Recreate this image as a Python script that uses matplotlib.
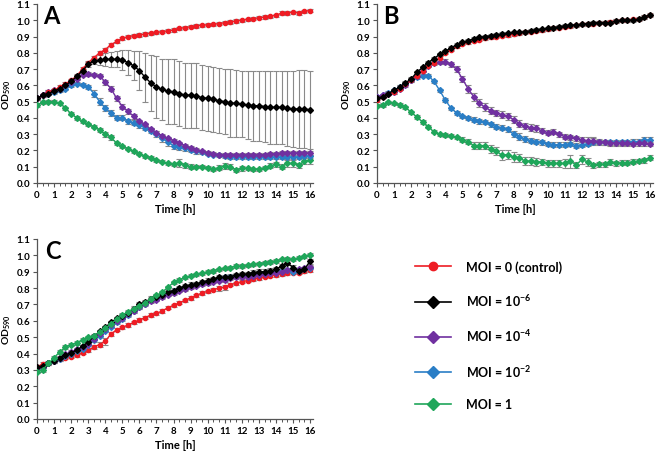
import numpy as np
import matplotlib
matplotlib.use("Agg")
import matplotlib.pyplot as plt
from matplotlib.lines import Line2D
from matplotlib.ticker import MultipleLocator

plt.rcParams['font.family'] = ['Lato', 'DejaVu Sans']
plt.rcParams['mathtext.fontset'] = 'custom'
plt.rcParams['mathtext.rm'] = 'Lato'
plt.rcParams['mathtext.bf'] = 'Lato:bold'

time_h = [i / 3 for i in range(49)]

series_labels = ["MOI = 0 (control)", r"MOI = 10$^{\mathbf{-6}}$", r"MOI = 10$^{\mathbf{-4}}$",
                 r"MOI = 10$^{\mathbf{-2}}$", "MOI = 1"]
series_colors = ["#EE1C24", "#000000", "#7030A0", "#2A7EC6", "#1FA65A"]
series_markers = ["o", "D", "D", "D", "D"]

# ---------------- Panel A ----------------
A_red = [0.52, 0.54, 0.56, 0.57, 0.59, 0.61, 0.63, 0.66, 0.70, 0.74, 0.77, 0.80, 0.82, 0.85, 0.87, 0.89, 0.90,
         0.905, 0.91, 0.915, 0.92, 0.925, 0.93, 0.935, 0.94, 0.95, 0.955, 0.96, 0.965, 0.97, 0.972, 0.975, 0.98,
         0.985, 0.99, 0.995, 1.0, 1.005, 1.01, 1.015, 1.02, 1.025, 1.03, 1.045, 1.045, 1.05, 1.045, 1.055, 1.06]
A_black = [0.52, 0.54, 0.55, 0.565, 0.58, 0.60, 0.625, 0.655, 0.69, 0.73, 0.75, 0.755, 0.76, 0.76, 0.76, 0.755,
           0.74, 0.72, 0.69, 0.65, 0.615, 0.59, 0.575, 0.565, 0.56, 0.55, 0.54, 0.54, 0.535, 0.525, 0.52, 0.515,
           0.505, 0.50, 0.49, 0.49, 0.485, 0.48, 0.475, 0.475, 0.47, 0.465, 0.465, 0.465, 0.46, 0.455, 0.455,
           0.455, 0.45]
A_purple = [0.52, 0.54, 0.56, 0.57, 0.58, 0.60, 0.62, 0.64, 0.665, 0.67, 0.665, 0.66, 0.62, 0.58, 0.52, 0.47,
            0.44, 0.41, 0.38, 0.36, 0.33, 0.31, 0.29, 0.275, 0.26, 0.245, 0.23, 0.215, 0.205, 0.195, 0.185, 0.18,
            0.175, 0.175, 0.175, 0.175, 0.175, 0.175, 0.175, 0.175, 0.175, 0.18, 0.18, 0.185, 0.185, 0.185, 0.185,
            0.185, 0.185]
A_blue = [0.52, 0.54, 0.55, 0.56, 0.57, 0.58, 0.60, 0.61, 0.605, 0.59, 0.55, 0.50, 0.46, 0.43, 0.40, 0.40, 0.38,
          0.37, 0.355, 0.34, 0.32, 0.30, 0.275, 0.25, 0.23, 0.22, 0.215, 0.205, 0.195, 0.19, 0.18, 0.175, 0.17,
          0.165, 0.16, 0.16, 0.16, 0.16, 0.16, 0.16, 0.16, 0.16, 0.16, 0.16, 0.16, 0.16, 0.16, 0.165, 0.165]
A_green = [0.48, 0.495, 0.50, 0.50, 0.49, 0.46, 0.425, 0.40, 0.38, 0.36, 0.345, 0.325, 0.30, 0.28, 0.245, 0.225,
           0.21, 0.195, 0.18, 0.165, 0.155, 0.14, 0.13, 0.12, 0.115, 0.125, 0.11, 0.10, 0.10, 0.10, 0.095, 0.085,
           0.095, 0.105, 0.10, 0.08, 0.09, 0.09, 0.085, 0.085, 0.095, 0.105, 0.115, 0.10, 0.12, 0.12, 0.11, 0.135,
           0.14]

A_red_err = [0.01] * 49
A_black_err = [0.01, 0.01, 0.01, 0.01, 0.01, 0.01, 0.01, 0.01, 0.01, 0.015, 0.02, 0.03, 0.04, 0.045, 0.05, 0.06,
               0.075, 0.09, 0.12, 0.15, 0.17, 0.19, 0.19, 0.2, 0.2, 0.2, 0.2, 0.2, 0.2, 0.2, 0.2, 0.2, 0.2, 0.2,
               0.21, 0.205, 0.205, 0.21, 0.215, 0.215, 0.22, 0.225, 0.225, 0.225, 0.23, 0.235, 0.24, 0.24, 0.24]
A_purple_err = [0.01, 0.01, 0.01, 0.01, 0.01, 0.01, 0.01, 0.01, 0.01, 0.01, 0.01, 0.01, 0.015, 0.015, 0.015,
                0.015, 0.015, 0.015, 0.01, 0.01, 0.01, 0.01, 0.01, 0.01, 0.01, 0.01, 0.01, 0.01, 0.01, 0.01, 0.01,
                0.01, 0.01, 0.01, 0.01, 0.01, 0.01, 0.01, 0.01, 0.01, 0.01, 0.01, 0.01, 0.01, 0.01, 0.01, 0.01,
                0.01, 0.01]
A_blue_err = [0.01, 0.01, 0.01, 0.01, 0.01, 0.01, 0.01, 0.01, 0.01, 0.015, 0.02, 0.02, 0.02, 0.02, 0.015, 0.015,
              0.015, 0.015, 0.015, 0.015, 0.015, 0.02, 0.02, 0.02, 0.02, 0.02, 0.02, 0.015, 0.015, 0.01, 0.01, 0.01,
              0.01, 0.01, 0.01, 0.01, 0.01, 0.01, 0.01, 0.01, 0.01, 0.01, 0.01, 0.01, 0.01, 0.01, 0.01, 0.01, 0.01]
A_green_err = [0.01, 0.01, 0.01, 0.01, 0.01, 0.01, 0.01, 0.01, 0.01, 0.01, 0.01, 0.01, 0.015, 0.015, 0.01, 0.01,
               0.01, 0.01, 0.01, 0.01, 0.01, 0.01, 0.01, 0.01, 0.01, 0.025, 0.015, 0.015, 0.01, 0.01, 0.01, 0.01,
               0.015, 0.02, 0.015, 0.01, 0.015, 0.01, 0.01, 0.01, 0.01, 0.015, 0.015, 0.015, 0.02, 0.02, 0.015,
               0.02, 0.025]

# ---------------- Panel B ----------------
B_red = [0.51, 0.53, 0.55, 0.56, 0.58, 0.61, 0.63, 0.66, 0.69, 0.72, 0.74, 0.77, 0.80, 0.82, 0.84, 0.855, 0.865,
         0.875, 0.88, 0.89, 0.895, 0.90, 0.905, 0.91, 0.915, 0.92, 0.925, 0.93, 0.935, 0.94, 0.945, 0.95, 0.955,
         0.96, 0.965, 0.97, 0.975, 0.975, 0.98, 0.985, 0.985, 0.99, 0.995, 1.0, 1.0, 1.005, 1.01, 1.02, 1.03]
B_black = [0.52, 0.53, 0.55, 0.57, 0.59, 0.615, 0.64, 0.68, 0.71, 0.74, 0.765, 0.79, 0.81, 0.83, 0.85, 0.865,
           0.875, 0.885, 0.895, 0.90, 0.905, 0.91, 0.915, 0.92, 0.925, 0.925, 0.93, 0.935, 0.94, 0.945, 0.95,
           0.955, 0.96, 0.965, 0.97, 0.97, 0.975, 0.98, 0.985, 0.985, 0.985, 0.985, 0.995, 1.0, 1.0, 1.0, 1.005,
           1.02, 1.035]
B_purple = [0.53, 0.54, 0.55, 0.56, 0.58, 0.60, 0.63, 0.66, 0.69, 0.72, 0.735, 0.745, 0.745, 0.73, 0.70, 0.64,
            0.58, 0.53, 0.49, 0.465, 0.445, 0.43, 0.42, 0.41, 0.39, 0.365, 0.35, 0.34, 0.335, 0.32, 0.31, 0.315,
            0.30, 0.285, 0.28, 0.275, 0.265, 0.26, 0.26, 0.255, 0.25, 0.245, 0.245, 0.245, 0.245, 0.24, 0.245,
            0.245, 0.24]
B_blue = [0.53, 0.54, 0.555, 0.57, 0.59, 0.61, 0.635, 0.65, 0.66, 0.66, 0.625, 0.57, 0.51, 0.46, 0.43, 0.41, 0.40,
          0.39, 0.38, 0.375, 0.36, 0.345, 0.34, 0.33, 0.30, 0.285, 0.27, 0.26, 0.255, 0.25, 0.24, 0.235, 0.235,
          0.235, 0.24, 0.23, 0.235, 0.24, 0.255, 0.25, 0.25, 0.25, 0.25, 0.25, 0.25, 0.255, 0.255, 0.265, 0.265]
B_green = [0.475, 0.48, 0.495, 0.49, 0.48, 0.465, 0.435, 0.405, 0.375, 0.345, 0.315, 0.30, 0.295, 0.29, 0.28,
           0.265, 0.255, 0.23, 0.23, 0.23, 0.21, 0.195, 0.17, 0.175, 0.16, 0.155, 0.135, 0.135, 0.13, 0.13, 0.12,
           0.12, 0.12, 0.12, 0.135, 0.11, 0.145, 0.13, 0.11, 0.115, 0.115, 0.13, 0.12, 0.125, 0.125, 0.13, 0.135,
           0.14, 0.155]

B_red_err = [0.01] * 49
B_black_err = [0.01] * 49
B_purple_err = [0.01, 0.01, 0.01, 0.01, 0.01, 0.01, 0.01, 0.01, 0.01, 0.01, 0.01, 0.015, 0.015, 0.015, 0.02,
                0.02, 0.025, 0.025, 0.025, 0.025, 0.02, 0.02, 0.02, 0.02, 0.02, 0.02, 0.02, 0.02, 0.02, 0.015, 0.015,
                0.015, 0.015, 0.015, 0.015, 0.015, 0.015, 0.02, 0.02, 0.015, 0.015, 0.015, 0.015, 0.015, 0.015,
                0.015, 0.015, 0.015, 0.015]
B_blue_err = [0.01, 0.01, 0.01, 0.01, 0.01, 0.01, 0.01, 0.01, 0.01, 0.01, 0.01, 0.01, 0.01, 0.01, 0.01, 0.01,
              0.01, 0.015, 0.015, 0.015, 0.015, 0.015, 0.015, 0.015, 0.02, 0.02, 0.02, 0.015, 0.015, 0.015, 0.015,
              0.015, 0.015, 0.015, 0.015, 0.015, 0.015, 0.015, 0.02, 0.015, 0.015, 0.015, 0.015, 0.015, 0.015,
              0.015, 0.015, 0.02, 0.02]
B_green_err = [0.01, 0.01, 0.01, 0.01, 0.01, 0.01, 0.01, 0.01, 0.01, 0.01, 0.01, 0.01, 0.01, 0.01, 0.01, 0.015,
               0.015, 0.02, 0.02, 0.02, 0.025, 0.025, 0.03, 0.03, 0.03, 0.025, 0.025, 0.025, 0.025, 0.02, 0.02, 0.02,
               0.02, 0.025, 0.04, 0.02, 0.03, 0.025, 0.015, 0.015, 0.015, 0.02, 0.015, 0.015, 0.015, 0.015, 0.015,
               0.015, 0.015]

# ---------------- Panel C ----------------
C_red = [0.32, 0.335, 0.345, 0.355, 0.365, 0.375, 0.38, 0.39, 0.405, 0.42, 0.44, 0.455, 0.475, 0.52, 0.545, 0.56,
         0.575, 0.59, 0.605, 0.62, 0.635, 0.645, 0.66, 0.68, 0.695, 0.71, 0.725, 0.74, 0.755, 0.77, 0.78, 0.79,
         0.80, 0.805, 0.82, 0.83, 0.84, 0.845, 0.855, 0.86, 0.87, 0.875, 0.88, 0.885, 0.89, 0.895, 0.895, 0.905,
         0.91]
C_black = [0.315, 0.325, 0.34, 0.355, 0.37, 0.39, 0.405, 0.42, 0.445, 0.47, 0.505, 0.535, 0.56, 0.59, 0.615, 0.63,
           0.65, 0.675, 0.70, 0.715, 0.735, 0.745, 0.76, 0.775, 0.785, 0.80, 0.81, 0.82, 0.825, 0.835, 0.845,
           0.855, 0.865, 0.865, 0.87, 0.88, 0.885, 0.885, 0.895, 0.90, 0.90, 0.905, 0.915, 0.935, 0.955, 0.925,
           0.905, 0.915, 0.965]
C_purple = [0.31, 0.32, 0.34, 0.355, 0.375, 0.395, 0.41, 0.425, 0.44, 0.46, 0.49, 0.52, 0.55, 0.575, 0.60, 0.62,
            0.64, 0.66, 0.685, 0.70, 0.72, 0.73, 0.745, 0.76, 0.77, 0.785, 0.795, 0.805, 0.815, 0.825, 0.83, 0.84,
            0.845, 0.85, 0.86, 0.865, 0.865, 0.87, 0.875, 0.88, 0.885, 0.89, 0.895, 0.90, 0.91, 0.915, 0.915, 0.92,
            0.93]
C_blue = [0.31, 0.32, 0.34, 0.355, 0.365, 0.385, 0.40, 0.415, 0.43, 0.455, 0.48, 0.51, 0.54, 0.565, 0.59, 0.61,
          0.635, 0.66, 0.685, 0.705, 0.725, 0.735, 0.75, 0.765, 0.78, 0.79, 0.80, 0.81, 0.82, 0.83, 0.84, 0.85,
          0.855, 0.865, 0.87, 0.875, 0.875, 0.88, 0.885, 0.885, 0.89, 0.895, 0.90, 0.905, 0.91, 0.90, 0.905, 0.915,
          0.925]
C_green = [0.29, 0.30, 0.34, 0.375, 0.41, 0.44, 0.455, 0.465, 0.485, 0.50, 0.51, 0.53, 0.555, 0.58, 0.61, 0.635,
           0.655, 0.675, 0.69, 0.71, 0.735, 0.755, 0.775, 0.805, 0.835, 0.85, 0.865, 0.875, 0.885, 0.89, 0.90,
           0.905, 0.915, 0.92, 0.925, 0.935, 0.935, 0.94, 0.945, 0.95, 0.955, 0.96, 0.965, 0.975, 0.98, 0.975,
           0.985, 0.995, 1.005]

C_red_err = [0.01, 0.015, 0.01, 0.01, 0.01, 0.01, 0.01, 0.01, 0.01, 0.01, 0.01, 0.015, 0.02, 0.01, 0.01, 0.01,
             0.01, 0.01, 0.01, 0.01, 0.01, 0.01, 0.01, 0.01, 0.01, 0.01, 0.01, 0.01, 0.01, 0.01, 0.01, 0.01,
             0.015, 0.015, 0.01, 0.01, 0.01, 0.01, 0.01, 0.01, 0.01, 0.01, 0.01, 0.01, 0.01, 0.01, 0.01, 0.01, 0.01]
C_black_err = [0.01, 0.01, 0.01, 0.01, 0.01, 0.01, 0.01, 0.01, 0.01, 0.01, 0.01, 0.01, 0.01, 0.01, 0.01, 0.01,
               0.01, 0.015, 0.015, 0.015, 0.015, 0.015, 0.015, 0.015, 0.015, 0.015, 0.015, 0.015, 0.015, 0.015,
               0.015, 0.015, 0.015, 0.015, 0.015, 0.015, 0.015, 0.015, 0.015, 0.015, 0.015, 0.015, 0.015, 0.015,
               0.015, 0.015, 0.015, 0.015, 0.015]
C_purple_err = [0.01] * 49
C_blue_err = [0.01] * 49
C_green_err = [0.01] * 49

panels = [
    ("A", [A_red, A_black, A_purple, A_blue, A_green],
     [A_red_err, A_black_err, A_purple_err, A_blue_err, A_green_err]),
    ("B", [B_red, B_black, B_purple, B_blue, B_green],
     [B_red_err, B_black_err, B_purple_err, B_blue_err, B_green_err]),
    ("C", [C_red, C_black, C_purple, C_blue, C_green],
     [C_red_err, C_black_err, C_purple_err, C_blue_err, C_green_err]),
]

W, H = 660, 452
fig = plt.figure(figsize=(W / 100, H / 100), dpi=100)

def px_axes(left, top, right, bottom):
    return fig.add_axes([left / W, 1 - bottom / H, (right - left) / W, (bottom - top) / H])

axes_boxes = {
    "A": (37, 5, 313, 184),
    "B": (377, 5, 653, 184),
    "C": (37, 240, 313, 420),
}
label_x = {"A": 0.022, "B": 0.022, "C": 0.03}

x_ticks = list(range(0, 17))
y_ticks = [round(0.1 * i, 1) for i in range(12)]

for name, ys, errs in panels:
    ax = px_axes(*axes_boxes[name])
    draw_order = [4, 3, 2, 0, 1] if name != "C" else [0, 3, 2, 1, 4]
    for k in draw_order:
        ax.errorbar(time_h, ys[k], yerr=errs[k], fmt='none', ecolor='#8A8A8A', elinewidth=0.8,
                    capsize=2.0, capthick=0.8, zorder=2)
    for k in draw_order:
        ax.plot(time_h, ys[k], color=series_colors[k], marker=series_markers[k], markersize=3.0,
                linewidth=1.0, zorder=3)
    ax.set_xlim(0, 16.17)
    ax.set_ylim(0, 1.1)
    ax.set_xticks(x_ticks)
    ax.set_yticks(y_ticks)
    ax.set_yticklabels([f"{v:.1f}" for v in y_ticks])
    ax.xaxis.set_minor_locator(MultipleLocator(1 / 3))
    for s in ["top", "right"]:
        ax.spines[s].set_visible(False)
    for s in ["left", "bottom"]:
        ax.spines[s].set_color("#555555")
        ax.spines[s].set_linewidth(0.9)
    ax.tick_params(axis='both', which='major', labelsize=7, length=3, width=0.8, color="#555555", pad=2)
    ax.tick_params(axis='x', which='minor', length=2.5, width=0.7, color="#555555")
    for lbl in ax.get_xticklabels() + ax.get_yticklabels():
        lbl.set_fontweight('bold')
    ax.set_xlabel("Time [h]", fontsize=8, fontweight='bold', labelpad=3)
    ax.set_ylabel(r"OD$_{\mathbf{590}}$", fontsize=7.5, fontweight='bold')
    ax.yaxis.set_label_coords(-0.088, 0.5)
    ax.text(label_x[name], 1.0, name, transform=ax.transAxes, fontsize=17, fontweight='bold',
            ha='left', va='top')

handles = [Line2D([0], [0], color=series_colors[k], marker=series_markers[k], markersize=6,
                  linewidth=1.2) for k in range(5)]
fig.legend(handles, series_labels, loc='center left', bbox_to_anchor=(404 / W, 1 - 336 / H),
           frameon=False, prop={'weight': 'bold', 'size': 9}, handlelength=2.9, handletextpad=1.2,
           labelspacing=1.55)

fig.savefig("out.png", dpi=100)
